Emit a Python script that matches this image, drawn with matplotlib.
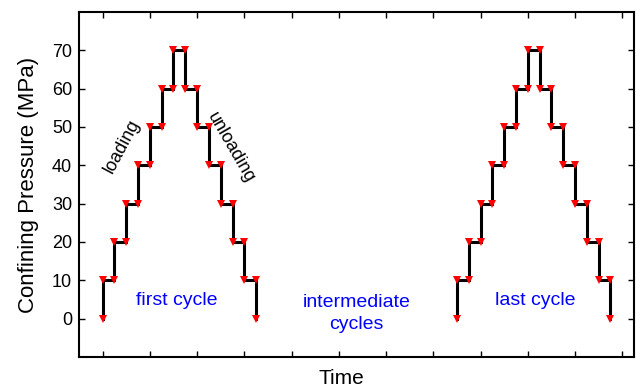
import matplotlib
matplotlib.use("Agg")
import matplotlib.pyplot as plt
import numpy as np

# Confining-pressure staircase: step times and pressure levels (MPa)
first_cycle_t = [0, 0, 1, 1, 2, 2, 3, 3, 4, 4, 5, 5, 6, 6, 7, 7, 8, 8, 9, 9, 10, 10, 11, 11, 12, 12, 13, 13]
first_cycle_p = [0, 10, 10, 20, 20, 30, 30, 40, 40, 50, 50, 60, 60, 70, 70, 60, 60, 50, 50, 40, 40, 30, 30, 20, 20, 10, 10, 0]
last_cycle_t = [t + 30 for t in first_cycle_t]
last_cycle_p = list(first_cycle_p)

y_ticks = [0, 10, 20, 30, 40, 50, 60, 70]
x_ticks = list(range(0, 45, 4))

plt.rcParams['font.family'] = ['Liberation Sans', 'DejaVu Sans']

fig = plt.figure(figsize=(6.36, 3.89), dpi=100)
ax = fig.add_axes([0.1242, 0.0823, 0.8727, 0.8869])

for t, p in [(first_cycle_t, first_cycle_p), (last_cycle_t, last_cycle_p)]:
    ax.plot(t, p, color='black', lw=2.2, zorder=2, solid_joinstyle='miter')
    ax.plot(t, p, ls='none', marker='v', color='red', markersize=6,
            markeredgewidth=0, zorder=3)

ax.set_xlim(-2, 45)
ax.set_ylim(-10, 80)
ax.set_yticks(y_ticks)
ax.set_xticks(x_ticks)
ax.set_xticklabels([])
ax.tick_params(direction='in', length=4, width=1, top=True, right=True,
               labelsize=13, pad=5)
for s in ax.spines.values():
    s.set_linewidth(1.5)

ax.set_ylabel('Confining Pressure (MPa)', fontsize=16, labelpad=9)
ax.set_xlabel('Time', fontsize=15)
ax.xaxis.set_label_coords(0.473, -0.035, transform=ax.transAxes)
ax.xaxis.label.set_va('top')

ax.text(1.6, 45.0, 'loading', rotation=62, fontsize=13,
        ha='center', va='center')
ax.text(10.9, 44.6, 'unloading', rotation=-60, fontsize=13,
        ha='center', va='center')

blue = (0, 0, 1)
ax.text(6.3, 4.7, 'first cycle', color=blue, fontsize=14, ha='center', va='center')
ax.text(21.5, 1.3, 'intermediate\ncycles', color=blue, fontsize=14,
        ha='center', va='center', linespacing=1.35)
ax.text(36.6, 4.7, 'last cycle', color=blue, fontsize=14, ha='center', va='center')

fig.savefig('out.png', dpi=100)
